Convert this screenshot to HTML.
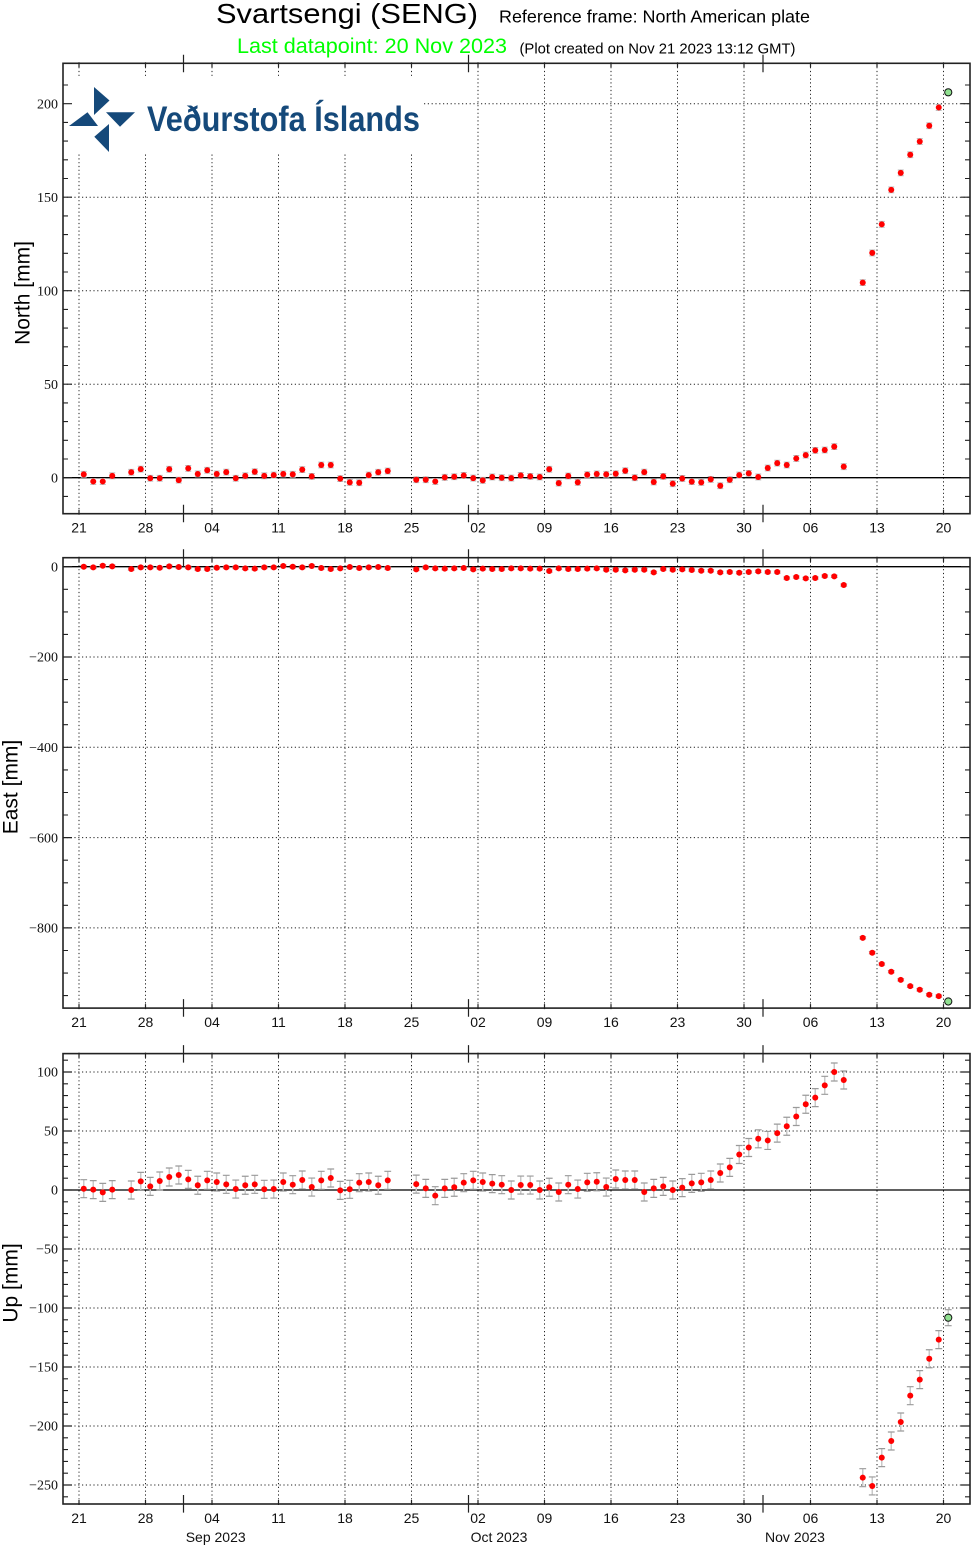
<!DOCTYPE html>
<html>
<head>
<meta charset="utf-8">
<style>
html,body{margin:0;padding:0;background:#fff;}
svg{display:block;font-family:"Liberation Sans",sans-serif;}
.gn use{transform:translate(calc(83.75px + 9.5px * var(--d)),calc(477.7px - 1.87px * var(--v)));}
.ge use{transform:translate(calc(83.75px + 9.5px * var(--d)),calc(566.7px - 0.4515px * var(--v)));}
.gu use{transform:translate(calc(83.75px + 9.5px * var(--d)),calc(1190px - 1.18px * var(--v)));}
.yl{font-family:"Liberation Serif",serif;font-size:14px;text-anchor:end;fill:#111;}
.xl{font-size:14px;text-anchor:middle;fill:#111;}
</style>
</head>
<body>
<svg width="971" height="1547" viewBox="0 0 971 1547" xmlns="http://www.w3.org/2000/svg" xmlns:xlink="http://www.w3.org/1999/xlink">
<defs>
  <g id="vg" stroke="#222" stroke-width="1" stroke-dasharray="1.2 2.6" fill="none">
    <path d="M79,0V450.4M145.5,0V450.4M212,0V450.4M278.5,0V450.4M345,0V450.4M411.5,0V450.4M478,0V450.4M544.5,0V450.4M611,0V450.4M677.5,0V450.4M744,0V450.4M810.5,0V450.4M877,0V450.4M943.5,0V450.4"/>
  </g>
  <g id="xt" stroke="#222" stroke-width="1.2" fill="none">
    <path d="M79,-1V4M145.5,-1V4M212,-1V4M278.5,-1V4M345,-1V4M411.5,-1V4M478,-1V4M544.5,-1V4M611,-1V4M677.5,-1V4M744,-1V4M810.5,-1V4M877,-1V4M943.5,-1V4"/>
    <path d="M79,451.4V446.4M145.5,451.4V446.4M212,451.4V446.4M278.5,451.4V446.4M345,451.4V446.4M411.5,451.4V446.4M478,451.4V446.4M544.5,451.4V446.4M611,451.4V446.4M677.5,451.4V446.4M744,451.4V446.4M810.5,451.4V446.4M877,451.4V446.4M943.5,451.4V446.4"/>
    <path d="M183.5,-8.5V9M468.5,-8.5V9M763,-8.5V9M183.5,441.4V459M468.5,441.4V459M763,441.4V459"/>
  </g>
  <g id="N">
    <line x1="0" y1="-2.8" x2="0" y2="2.8" stroke="#cfcfcf" stroke-width="1.5"/>
    <path d="M-3,-2.9H3M-3,2.9H3" stroke="#b8b8b8" stroke-width="1"/>
    <circle r="3" fill="#ff0000"/>
  </g>
  <g id="E">
    <path d="M-3.4,-1.2H3.4M-3.4,1.2H3.4" stroke="#b0b0b0" stroke-width="1"/>
    <circle r="3" fill="#ff0000"/>
  </g>
  <g id="U">
    <line x1="0" y1="-9" x2="0" y2="9" stroke="#c8c8c8" stroke-width="1.5"/>
    <path d="M-3.4,-9H3.4M-3.4,9H3.4" stroke="#9a9a9a" stroke-width="1.2"/>
    <circle r="3" fill="#ff0000"/>
  </g>
  <g id="G">
    <circle r="3.6" fill="#90e090" stroke="#111" stroke-width="1"/>
  </g>
  <g id="GU">
    <line x1="0" y1="-8" x2="0" y2="8" stroke="#c8c8c8" stroke-width="1.5"/>
    <path d="M-3.4,-8H3.4M-3.4,8H3.4" stroke="#9a9a9a" stroke-width="1.2"/>
    <circle r="3.6" fill="#90e090" stroke="#111" stroke-width="1"/>
  </g>
</defs>

<!-- Titles -->
<text x="216" y="23" font-size="27.5" fill="#000" textLength="262" lengthAdjust="spacingAndGlyphs">Svartsengi (SENG)</text>
<text x="499" y="22.7" font-size="17.5" fill="#000" textLength="311" lengthAdjust="spacingAndGlyphs">Reference frame: North American plate</text>
<text x="237" y="53" font-size="21" fill="#00ff00" textLength="270" lengthAdjust="spacingAndGlyphs">Last datapoint: 20 Nov 2023</text>
<text x="519.5" y="53.3" font-size="14.8" fill="#000" textLength="276" lengthAdjust="spacingAndGlyphs">(Plot created on Nov 21 2023 13:12 GMT)</text>

<!-- ================= PANEL 1 (North) ================= -->
<use href="#vg" y="63.3"/>
<path d="M63,103.7H970M63,197.2H970M63,290.7H970M63,384.2H970" stroke="#222" stroke-width="1" stroke-dasharray="1.2 2.6" fill="none"/>
<!-- logo -->
<rect x="64" y="77" width="358" height="75" fill="#fff"/>
<g fill="#15497a">
  <polygon points="94,87 109.5,100.5 94,115"/>
  <polygon points="69,126 87.5,112.3 98,126"/>
  <polygon points="106,112.3 135,112.3 120,126.7"/>
  <polygon points="109,124 109,152 94.3,136.8"/>
</g>
<text x="147" y="131" font-size="35" font-weight="bold" fill="#15497a" textLength="273" lengthAdjust="spacingAndGlyphs">Veðurstofa Íslands</text>
<line x1="63" y1="477.7" x2="970" y2="477.7" stroke="#000" stroke-width="1.3"/>
<path d="M63,477.7h9M970,477.7h-9M63,384.2h9M970,384.2h-9M63,290.7h9M970,290.7h-9M63,197.2h9M970,197.2h-9M63,103.7h9M970,103.7h-9" stroke="#222" stroke-width="1.2"/>
<path d="M63,496.4h5M970,496.4h-5M63,459h5M970,459h-5M63,440.3h5M970,440.3h-5M63,421.6h5M970,421.6h-5M63,402.9h5M970,402.9h-5M63,365.5h5M970,365.5h-5M63,346.8h5M970,346.8h-5M63,328.1h5M970,328.1h-5M63,309.4h5M970,309.4h-5M63,272h5M970,272h-5M63,253.3h5M970,253.3h-5M63,234.6h5M970,234.6h-5M63,215.9h5M970,215.9h-5M63,178.5h5M970,178.5h-5M63,159.8h5M970,159.8h-5M63,141.1h5M970,141.1h-5M63,122.4h5M970,122.4h-5M63,85h5M970,85h-5" stroke="#222" stroke-width="1.1"/>
<use href="#xt" y="63.3"/>
<rect x="63" y="63.3" width="907" height="450.4" fill="none" stroke="#222" stroke-width="1.6"/>
<text class="yl" x="58" y="108.4">200</text>
<text class="yl" x="58" y="201.9">150</text>
<text class="yl" x="58" y="295.4">100</text>
<text class="yl" x="58" y="388.9">50</text>
<text class="yl" x="58" y="482.4">0</text>
<g class="xl">
<text x="79" y="532.7">21</text><text x="145.5" y="532.7">28</text><text x="212" y="532.7">04</text><text x="278.5" y="532.7">11</text><text x="345" y="532.7">18</text><text x="411.5" y="532.7">25</text><text x="478" y="532.7">02</text><text x="544.5" y="532.7">09</text><text x="611" y="532.7">16</text><text x="677.5" y="532.7">23</text><text x="744" y="532.7">30</text><text x="810.5" y="532.7">06</text><text x="877" y="532.7">13</text><text x="943.5" y="532.7">20</text>
</g>
<text transform="translate(29.5,293) rotate(-90)" text-anchor="middle" font-size="21" fill="#000">North [mm]</text>
<g class="gn">
<use href="#N" style="--d:0;--v:1.8"/><use href="#N" style="--d:1;--v:-2"/><use href="#N" style="--d:2;--v:-2"/><use href="#N" style="--d:3;--v:1"/>
<use href="#N" style="--d:5;--v:2.9"/><use href="#N" style="--d:6;--v:4.6"/><use href="#N" style="--d:7;--v:-0.3"/><use href="#N" style="--d:8;--v:-0.3"/><use href="#N" style="--d:9;--v:4.5"/><use href="#N" style="--d:10;--v:-1.3"/><use href="#N" style="--d:11;--v:5"/><use href="#N" style="--d:12;--v:2"/><use href="#N" style="--d:13;--v:4"/><use href="#N" style="--d:14;--v:2"/><use href="#N" style="--d:15;--v:3"/><use href="#N" style="--d:16;--v:-0.3"/><use href="#N" style="--d:17;--v:1"/><use href="#N" style="--d:18;--v:3.2"/><use href="#N" style="--d:19;--v:1"/><use href="#N" style="--d:20;--v:1.4"/><use href="#N" style="--d:21;--v:2"/><use href="#N" style="--d:22;--v:1.8"/><use href="#N" style="--d:23;--v:4.3"/><use href="#N" style="--d:24;--v:0.7"/><use href="#N" style="--d:25;--v:6.8"/><use href="#N" style="--d:26;--v:6.8"/><use href="#N" style="--d:27;--v:-0.5"/><use href="#N" style="--d:28;--v:-2.5"/><use href="#N" style="--d:29;--v:-2.7"/><use href="#N" style="--d:30;--v:1.4"/><use href="#N" style="--d:31;--v:2.9"/><use href="#N" style="--d:32;--v:3.6"/>
<use href="#N" style="--d:35;--v:-1.1"/><use href="#N" style="--d:36;--v:-1.1"/><use href="#N" style="--d:37;--v:-2"/><use href="#N" style="--d:38;--v:0.2"/><use href="#N" style="--d:39;--v:0.5"/><use href="#N" style="--d:40;--v:1.2"/><use href="#N" style="--d:41;--v:-0.2"/><use href="#N" style="--d:42;--v:-1.4"/><use href="#N" style="--d:43;--v:0.4"/><use href="#N" style="--d:44;--v:0"/><use href="#N" style="--d:45;--v:-0.2"/><use href="#N" style="--d:46;--v:1.2"/><use href="#N" style="--d:47;--v:0.7"/><use href="#N" style="--d:48;--v:0.4"/><use href="#N" style="--d:49;--v:4.5"/><use href="#N" style="--d:50;--v:-2.9"/><use href="#N" style="--d:51;--v:0.9"/><use href="#N" style="--d:52;--v:-2.5"/><use href="#N" style="--d:53;--v:1.6"/><use href="#N" style="--d:54;--v:2"/><use href="#N" style="--d:55;--v:1.8"/><use href="#N" style="--d:56;--v:2.1"/><use href="#N" style="--d:57;--v:3.7"/><use href="#N" style="--d:58;--v:0"/><use href="#N" style="--d:59;--v:3"/><use href="#N" style="--d:60;--v:-2.3"/><use href="#N" style="--d:61;--v:0.7"/><use href="#N" style="--d:62;--v:-3.2"/><use href="#N" style="--d:63;--v:-0.4"/><use href="#N" style="--d:64;--v:-2.1"/><use href="#N" style="--d:65;--v:-2.5"/><use href="#N" style="--d:66;--v:-0.9"/><use href="#N" style="--d:67;--v:-4.3"/><use href="#N" style="--d:68;--v:-1.1"/><use href="#N" style="--d:69;--v:1.4"/><use href="#N" style="--d:70;--v:2.3"/><use href="#N" style="--d:71;--v:0.4"/><use href="#N" style="--d:72;--v:5.2"/><use href="#N" style="--d:73;--v:7.8"/><use href="#N" style="--d:74;--v:6.8"/><use href="#N" style="--d:75;--v:10.3"/><use href="#N" style="--d:76;--v:12.1"/><use href="#N" style="--d:77;--v:14.6"/><use href="#N" style="--d:78;--v:14.8"/><use href="#N" style="--d:79;--v:16.6"/><use href="#N" style="--d:80;--v:5.9"/>
<use href="#N" style="--d:82;--v:104.3"/><use href="#N" style="--d:83;--v:120.2"/><use href="#N" style="--d:84;--v:135.5"/><use href="#N" style="--d:85;--v:153.9"/><use href="#N" style="--d:86;--v:163"/><use href="#N" style="--d:87;--v:172.7"/><use href="#N" style="--d:88;--v:179.8"/><use href="#N" style="--d:89;--v:188.2"/><use href="#N" style="--d:90;--v:198"/>
<use href="#G" style="--d:91;--v:206.1"/>
</g>

<!-- ================= PANEL 2 (East) ================= -->
<use href="#vg" y="557.7"/>
<path d="M63,657H970M63,747.3H970M63,837.6H970M63,927.9H970" stroke="#222" stroke-width="1" stroke-dasharray="1.2 2.6" fill="none"/>
<line x1="63" y1="566.7" x2="970" y2="566.7" stroke="#000" stroke-width="1.3"/>
<path d="M63,566.7h9M970,566.7h-9M63,657h9M970,657h-9M63,747.3h9M970,747.3h-9M63,837.6h9M970,837.6h-9M63,927.9h9M970,927.9h-9" stroke="#222" stroke-width="1.2"/>
<path d="M63,589.3h5M970,589.3h-5M63,611.9h5M970,611.9h-5M63,634.4h5M970,634.4h-5M63,679.6h5M970,679.6h-5M63,702.2h5M970,702.2h-5M63,724.7h5M970,724.7h-5M63,769.9h5M970,769.9h-5M63,792.5h5M970,792.5h-5M63,815h5M970,815h-5M63,860.2h5M970,860.2h-5M63,882.8h5M970,882.8h-5M63,905.3h5M970,905.3h-5M63,950.5h5M970,950.5h-5M63,973.1h5M970,973.1h-5M63,995.6h5M970,995.6h-5" stroke="#222" stroke-width="1.1"/>
<use href="#xt" y="557.7"/>
<rect x="63" y="557.7" width="907" height="450.4" fill="none" stroke="#222" stroke-width="1.6"/>
<text class="yl" x="58" y="571.4">0</text>
<text class="yl" x="58" y="661.7">−200</text>
<text class="yl" x="58" y="752">−400</text>
<text class="yl" x="58" y="842.3">−600</text>
<text class="yl" x="58" y="932.6">−800</text>
<g class="xl">
<text x="79" y="1027.1">21</text><text x="145.5" y="1027.1">28</text><text x="212" y="1027.1">04</text><text x="278.5" y="1027.1">11</text><text x="345" y="1027.1">18</text><text x="411.5" y="1027.1">25</text><text x="478" y="1027.1">02</text><text x="544.5" y="1027.1">09</text><text x="611" y="1027.1">16</text><text x="677.5" y="1027.1">23</text><text x="744" y="1027.1">30</text><text x="810.5" y="1027.1">06</text><text x="877" y="1027.1">13</text><text x="943.5" y="1027.1">20</text>
</g>
<text transform="translate(17.5,787) rotate(-90)" text-anchor="middle" font-size="21" fill="#000">East [mm]</text>
<g class="ge">
<use href="#E" style="--d:0;--v:0"/><use href="#E" style="--d:1;--v:-1.5"/><use href="#E" style="--d:2;--v:2.2"/><use href="#E" style="--d:3;--v:0.7"/>
<use href="#E" style="--d:5;--v:-5.2"/><use href="#E" style="--d:6;--v:-1.5"/><use href="#E" style="--d:7;--v:-1.5"/><use href="#E" style="--d:8;--v:-2.2"/><use href="#E" style="--d:9;--v:0.7"/><use href="#E" style="--d:10;--v:-0.7"/><use href="#E" style="--d:11;--v:-1.5"/><use href="#E" style="--d:12;--v:-5.2"/><use href="#E" style="--d:13;--v:-5.2"/><use href="#E" style="--d:14;--v:-2.2"/><use href="#E" style="--d:15;--v:-1.5"/><use href="#E" style="--d:16;--v:-1.5"/><use href="#E" style="--d:17;--v:-3.7"/><use href="#E" style="--d:18;--v:-4.4"/><use href="#E" style="--d:19;--v:-1.5"/><use href="#E" style="--d:20;--v:-1.5"/><use href="#E" style="--d:21;--v:1.5"/><use href="#E" style="--d:22;--v:0"/><use href="#E" style="--d:23;--v:-1.5"/><use href="#E" style="--d:24;--v:1.5"/><use href="#E" style="--d:25;--v:-3"/><use href="#E" style="--d:26;--v:-5.2"/><use href="#E" style="--d:27;--v:-3.7"/><use href="#E" style="--d:28;--v:-0.7"/><use href="#E" style="--d:29;--v:-3"/><use href="#E" style="--d:30;--v:-1.5"/><use href="#E" style="--d:31;--v:-0.7"/><use href="#E" style="--d:32;--v:-3"/>
<use href="#E" style="--d:35;--v:-5.9"/><use href="#E" style="--d:36;--v:-1.5"/><use href="#E" style="--d:37;--v:-3.7"/><use href="#E" style="--d:38;--v:-4.4"/><use href="#E" style="--d:39;--v:-3.7"/><use href="#E" style="--d:40;--v:-3"/><use href="#E" style="--d:41;--v:-5.9"/><use href="#E" style="--d:42;--v:-4.4"/><use href="#E" style="--d:43;--v:-5.2"/><use href="#E" style="--d:44;--v:-5.2"/><use href="#E" style="--d:45;--v:-3.7"/><use href="#E" style="--d:46;--v:-3.7"/><use href="#E" style="--d:47;--v:-4.4"/><use href="#E" style="--d:48;--v:-4.4"/><use href="#E" style="--d:49;--v:-9.6"/><use href="#E" style="--d:50;--v:-3.7"/><use href="#E" style="--d:51;--v:-5.2"/><use href="#E" style="--d:52;--v:-5.2"/><use href="#E" style="--d:53;--v:-4.4"/><use href="#E" style="--d:54;--v:-3.7"/><use href="#E" style="--d:55;--v:-6.7"/><use href="#E" style="--d:56;--v:-6.7"/><use href="#E" style="--d:57;--v:-8.1"/><use href="#E" style="--d:58;--v:-6.7"/><use href="#E" style="--d:59;--v:-6.7"/><use href="#E" style="--d:60;--v:-12.6"/><use href="#E" style="--d:61;--v:-5.2"/><use href="#E" style="--d:62;--v:-6.7"/><use href="#E" style="--d:63;--v:-5.9"/><use href="#E" style="--d:64;--v:-7.4"/><use href="#E" style="--d:65;--v:-8.9"/><use href="#E" style="--d:66;--v:-8.9"/><use href="#E" style="--d:67;--v:-12.6"/><use href="#E" style="--d:68;--v:-11.8"/><use href="#E" style="--d:69;--v:-13.3"/><use href="#E" style="--d:70;--v:-11.8"/><use href="#E" style="--d:71;--v:-10.3"/><use href="#E" style="--d:72;--v:-11.8"/><use href="#E" style="--d:73;--v:-11.8"/><use href="#E" style="--d:74;--v:-25.1"/><use href="#E" style="--d:75;--v:-22.9"/><use href="#E" style="--d:76;--v:-25.9"/><use href="#E" style="--d:77;--v:-25.1"/><use href="#E" style="--d:78;--v:-20.7"/><use href="#E" style="--d:79;--v:-21.4"/><use href="#E" style="--d:80;--v:-40.6"/>
<use href="#E" style="--d:82;--v:-822"/><use href="#E" style="--d:83;--v:-855"/><use href="#E" style="--d:84;--v:-880"/><use href="#E" style="--d:85;--v:-897"/><use href="#E" style="--d:86;--v:-915"/><use href="#E" style="--d:87;--v:-929"/><use href="#E" style="--d:88;--v:-937"/><use href="#E" style="--d:89;--v:-948"/><use href="#E" style="--d:90;--v:-951"/>
<use href="#G" style="--d:91;--v:-963"/>
</g>

<!-- ================= PANEL 3 (Up) ================= -->
<use href="#vg" y="1053.6"/>
<path d="M63,1072H970M63,1131H970M63,1249H970M63,1308H970M63,1367H970M63,1426H970M63,1485H970" stroke="#222" stroke-width="1" stroke-dasharray="1.2 2.6" fill="none"/>
<line x1="63" y1="1190" x2="970" y2="1190" stroke="#000" stroke-width="1.3"/>
<path d="M63,1072h9M970,1072h-9M63,1131h9M970,1131h-9M63,1190h9M970,1190h-9M63,1249h9M970,1249h-9M63,1308h9M970,1308h-9M63,1367h9M970,1367h-9M63,1426h9M970,1426h-9M63,1485h9M970,1485h-9" stroke="#222" stroke-width="1.2"/>
<path d="M63,1060.2h5M970,1060.2h-5M63,1083.8h5M970,1083.8h-5M63,1095.6h5M970,1095.6h-5M63,1107.4h5M970,1107.4h-5M63,1119.2h5M970,1119.2h-5M63,1142.8h5M970,1142.8h-5M63,1154.6h5M970,1154.6h-5M63,1166.4h5M970,1166.4h-5M63,1178.2h5M970,1178.2h-5M63,1201.8h5M970,1201.8h-5M63,1213.6h5M970,1213.6h-5M63,1225.4h5M970,1225.4h-5M63,1237.2h5M970,1237.2h-5M63,1260.8h5M970,1260.8h-5M63,1272.6h5M970,1272.6h-5M63,1284.4h5M970,1284.4h-5M63,1296.2h5M970,1296.2h-5M63,1319.8h5M970,1319.8h-5M63,1331.6h5M970,1331.6h-5M63,1343.4h5M970,1343.4h-5M63,1355.2h5M970,1355.2h-5M63,1378.8h5M970,1378.8h-5M63,1390.6h5M970,1390.6h-5M63,1402.4h5M970,1402.4h-5M63,1414.2h5M970,1414.2h-5M63,1437.8h5M970,1437.8h-5M63,1449.6h5M970,1449.6h-5M63,1461.4h5M970,1461.4h-5M63,1473.2h5M970,1473.2h-5M63,1496.8h5M970,1496.8h-5" stroke="#222" stroke-width="1.1"/>
<use href="#xt" y="1053.6"/>
<rect x="63" y="1053.6" width="907" height="450.4" fill="none" stroke="#222" stroke-width="1.6"/>
<text class="yl" x="58" y="1076.7">100</text>
<text class="yl" x="58" y="1135.7">50</text>
<text class="yl" x="58" y="1194.7">0</text>
<text class="yl" x="58" y="1253.7">−50</text>
<text class="yl" x="58" y="1312.7">−100</text>
<text class="yl" x="58" y="1371.7">−150</text>
<text class="yl" x="58" y="1430.7">−200</text>
<text class="yl" x="58" y="1489.7">−250</text>
<g class="xl">
<text x="79" y="1523">21</text><text x="145.5" y="1523">28</text><text x="212" y="1523">04</text><text x="278.5" y="1523">11</text><text x="345" y="1523">18</text><text x="411.5" y="1523">25</text><text x="478" y="1523">02</text><text x="544.5" y="1523">09</text><text x="611" y="1523">16</text><text x="677.5" y="1523">23</text><text x="744" y="1523">30</text><text x="810.5" y="1523">06</text><text x="877" y="1523">13</text><text x="943.5" y="1523">20</text>
<text x="215.7" y="1542">Sep 2023</text>
<text x="499" y="1542">Oct 2023</text>
<text x="795" y="1542">Nov 2023</text>
</g>
<text transform="translate(17.5,1283) rotate(-90)" text-anchor="middle" font-size="21" fill="#000">Up [mm]</text>
<g class="gu">
<use href="#U" style="--d:0;--v:1.1"/><use href="#U" style="--d:1;--v:0.3"/><use href="#U" style="--d:2;--v:-2"/><use href="#U" style="--d:3;--v:0.3"/>
<use href="#U" style="--d:5;--v:0"/><use href="#U" style="--d:6;--v:7.3"/><use href="#U" style="--d:7;--v:3.1"/><use href="#U" style="--d:8;--v:7.6"/><use href="#U" style="--d:9;--v:11"/><use href="#U" style="--d:10;--v:12.7"/><use href="#U" style="--d:11;--v:9"/><use href="#U" style="--d:12;--v:4"/><use href="#U" style="--d:13;--v:8.2"/><use href="#U" style="--d:14;--v:6.8"/><use href="#U" style="--d:15;--v:4.8"/><use href="#U" style="--d:16;--v:0.8"/><use href="#U" style="--d:17;--v:4"/><use href="#U" style="--d:18;--v:4.8"/><use href="#U" style="--d:19;--v:0.6"/><use href="#U" style="--d:20;--v:0.8"/><use href="#U" style="--d:21;--v:6.8"/><use href="#U" style="--d:22;--v:4.5"/><use href="#U" style="--d:23;--v:8.5"/><use href="#U" style="--d:24;--v:2.5"/><use href="#U" style="--d:25;--v:8.2"/><use href="#U" style="--d:26;--v:10.2"/><use href="#U" style="--d:27;--v:-0.3"/><use href="#U" style="--d:28;--v:0.6"/><use href="#U" style="--d:29;--v:6.2"/><use href="#U" style="--d:30;--v:6.8"/><use href="#U" style="--d:31;--v:4"/><use href="#U" style="--d:32;--v:8.2"/>
<use href="#U" style="--d:35;--v:5"/><use href="#U" style="--d:36;--v:1.4"/><use href="#U" style="--d:37;--v:-4.8"/><use href="#U" style="--d:38;--v:1.4"/><use href="#U" style="--d:39;--v:2.3"/><use href="#U" style="--d:40;--v:6.2"/><use href="#U" style="--d:41;--v:8.2"/><use href="#U" style="--d:42;--v:6.8"/><use href="#U" style="--d:43;--v:5.4"/><use href="#U" style="--d:44;--v:4.5"/><use href="#U" style="--d:45;--v:0"/><use href="#U" style="--d:46;--v:4.2"/><use href="#U" style="--d:47;--v:4.2"/><use href="#U" style="--d:48;--v:0"/><use href="#U" style="--d:49;--v:2.3"/><use href="#U" style="--d:50;--v:-1.7"/><use href="#U" style="--d:51;--v:4.5"/><use href="#U" style="--d:52;--v:0.8"/><use href="#U" style="--d:53;--v:6.5"/><use href="#U" style="--d:54;--v:7"/><use href="#U" style="--d:55;--v:2.5"/><use href="#U" style="--d:56;--v:9.3"/><use href="#U" style="--d:57;--v:8.5"/><use href="#U" style="--d:58;--v:8.5"/><use href="#U" style="--d:59;--v:-1.7"/><use href="#U" style="--d:60;--v:1.4"/><use href="#U" style="--d:61;--v:3.1"/><use href="#U" style="--d:62;--v:0"/><use href="#U" style="--d:63;--v:2"/><use href="#U" style="--d:64;--v:5.6"/><use href="#U" style="--d:65;--v:6.5"/><use href="#U" style="--d:66;--v:8.5"/><use href="#U" style="--d:67;--v:14.4"/><use href="#U" style="--d:68;--v:19.2"/><use href="#U" style="--d:69;--v:30.1"/><use href="#U" style="--d:70;--v:36"/><use href="#U" style="--d:71;--v:43.4"/><use href="#U" style="--d:72;--v:42"/><use href="#U" style="--d:73;--v:48.2"/><use href="#U" style="--d:74;--v:54"/><use href="#U" style="--d:75;--v:62.3"/><use href="#U" style="--d:76;--v:72.7"/><use href="#U" style="--d:77;--v:78.3"/><use href="#U" style="--d:78;--v:88.7"/><use href="#U" style="--d:79;--v:100"/><use href="#U" style="--d:80;--v:93.2"/>
<use href="#U" style="--d:82;--v:-243.8"/><use href="#U" style="--d:83;--v:-250.8"/><use href="#U" style="--d:84;--v:-226.8"/><use href="#U" style="--d:85;--v:-212.7"/><use href="#U" style="--d:86;--v:-196.6"/><use href="#U" style="--d:87;--v:-174.3"/><use href="#U" style="--d:88;--v:-160.7"/><use href="#U" style="--d:89;--v:-143"/><use href="#U" style="--d:90;--v:-126.8"/>
<use href="#GU" style="--d:91;--v:-108.2"/>
</g>
</svg>
</body>
</html>
